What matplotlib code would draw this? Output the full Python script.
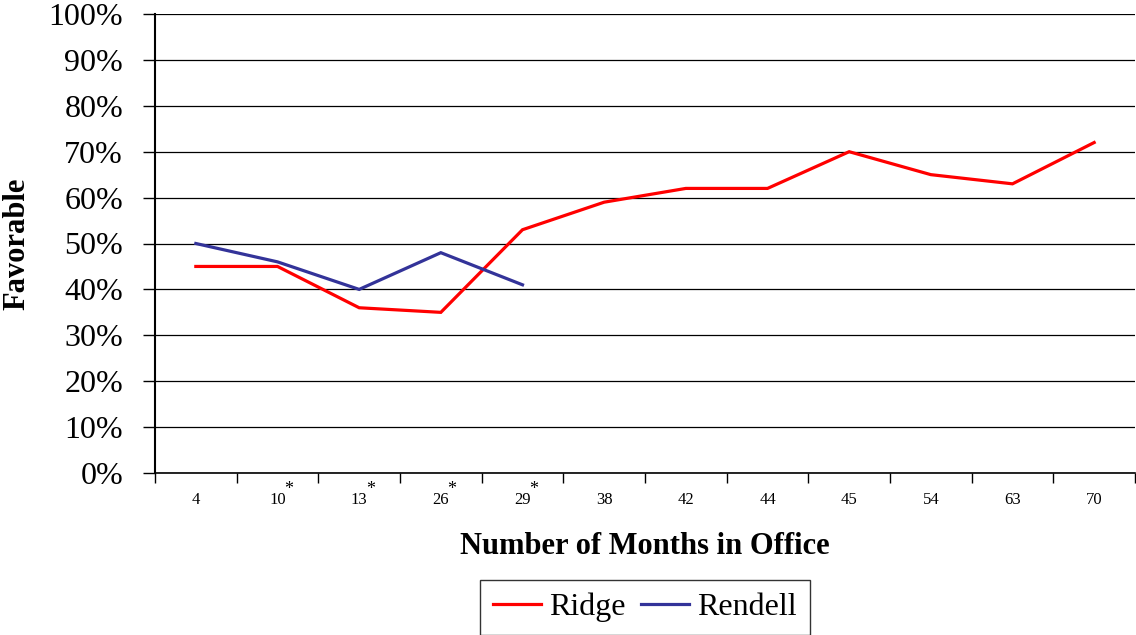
import matplotlib
matplotlib.use("Agg")
import matplotlib.pyplot as plt
from matplotlib.ticker import FuncFormatter, FixedLocator
import matplotlib.transforms as mtransforms

plt.rcParams['font.family'] = ['Liberation Serif', 'DejaVu Serif']

months = ["4", "10", "13", "26", "29", "38", "42", "44", "45", "54", "63", "70"]
starred = ["10", "13", "26", "29"]
ridge = [45, 45, 36, 35, 53, 59, 62, 62, 70, 65, 63, 72]
rendell = [50, 46, 40, 48, 41]
yticks = [0, 10, 20, 30, 40, 50, 60, 70, 80, 90, 100]

fig = plt.figure(figsize=(11.36, 6.35), dpi=100)
ax = fig.add_axes([155/1136, 1 - 473/635, (1135-155)/1136, (473-14)/635])

x = list(range(len(months)))
ax.plot(x, ridge, color='#FF0000', lw=2.3, label='Ridge', solid_joinstyle='miter')
ax.plot(x[:len(rendell)], rendell, color='#333399', lw=2.3, label='Rendell', solid_joinstyle='miter')

ax.set_xlim(-0.5, len(months) - 0.5)
ax.set_ylim(0, 100)
ax.set_yticks(yticks)
ax.yaxis.set_major_formatter(FuncFormatter(lambda v, p: f"{int(v)}%"))
ax.yaxis.grid(True, color='black', lw=0.9)
ax.set_axisbelow(True)
ax.tick_params(axis='y', labelsize=23, length=9, width=1, direction='out', pad=14)

ax.set_xticks(x)
ax.set_xticklabels(months)
ax.tick_params(axis='x', which='major', length=0, labelsize=12, pad=14)
ax.xaxis.set_minor_locator(FixedLocator([i - 0.5 for i in range(len(months) + 1)]))
ax.tick_params(axis='x', which='minor', length=7, width=1, direction='out')

trans = mtransforms.blended_transform_factory(ax.transData, ax.transAxes)
for i, m in enumerate(months):
    if m in starred:
        ax.text(i + 0.135, -0.036, "*", transform=trans, fontsize=13, ha='center', va='center')

for s in ['top', 'right']:
    ax.spines[s].set_visible(False)
ax.spines['left'].set_linewidth(1.5)
ax.spines['bottom'].set_linewidth(1.2)

ax.set_xlabel("Number of Months in Office", fontsize=22, fontweight='bold', va='center')
ax.xaxis.set_label_coords(0.5, -(546 - 473) / 459)
ax.set_ylabel("Favorable", fontsize=22, fontweight='bold', va='center')
ax.yaxis.set_label_coords((17 - 155) / 980, 0.5)

leg = ax.legend(loc='upper center', bbox_to_anchor=(0.5, -(580 - 473) / 459), ncol=2, fontsize=23,
                frameon=True, fancybox=False, edgecolor='black', handlelength=1.5,
                handletextpad=0.25, columnspacing=0.5, borderpad=0.4, borderaxespad=0)
leg.get_frame().set_linewidth(1.0)

fig.savefig("out.png", dpi=100)
